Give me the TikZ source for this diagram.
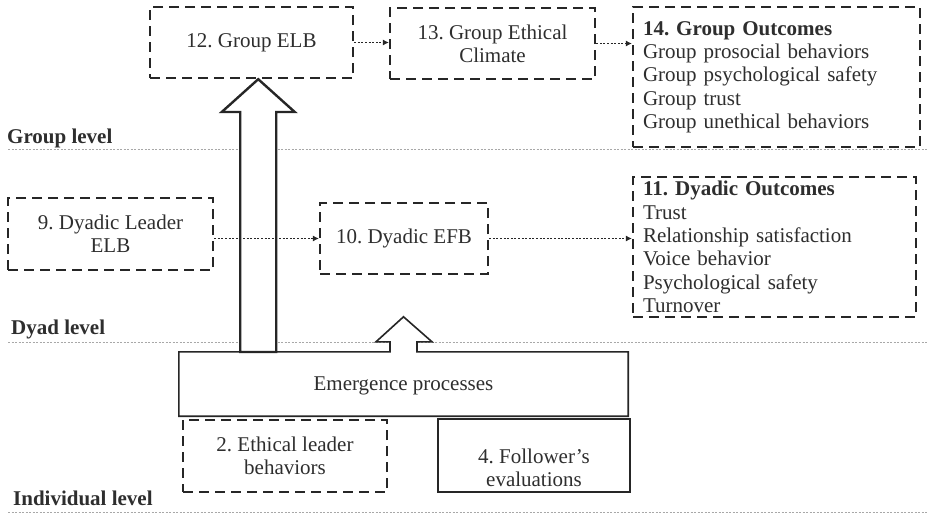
\documentclass[tikz,border=0pt]{standalone}
\usepackage{fontspec}
\setmainfont{Liberation Serif}
\usetikzlibrary{arrows.meta}
\definecolor{ink}{HTML}{262626}
\definecolor{txt}{HTML}{2E2E2E}
\definecolor{levelgray}{HTML}{A8A8A8}
\frenchspacing
\begin{document}
\begin{tikzpicture}[x=1pt,y=-1pt,
  every node/.style={font=\fontsize{21}{23.3}\selectfont, text=txt, inner sep=0pt},
  dbox/.style={draw=ink, line width=2.4pt, dash pattern=on 10pt off 6pt, fill=white, align=center},
  sbox/.style={draw=ink, line width=2.2pt, fill=white},
  listbox/.style={dbox, align=left, inner xsep=10pt},
  link/.style={draw=ink, line width=0.8pt, dash pattern=on 2pt off 1.6pt, -{Latex[length=6pt,width=6pt]}},
  levelline/.style={draw=levelgray, line width=0.8pt, dash pattern=on 2pt off 1.5pt},
  levellabel/.style={anchor=base west, font=\fontsize{21}{23.3}\selectfont\bfseries},
  hollow/.style={draw=ink, fill=white, line join=miter}]
\useasboundingbox (0,0) rectangle (927,514);

% level separators and their labels
\coordinate (gl0) at (8,149);   \coordinate (gl1) at (927,149);
\coordinate (dl0) at (8,342);   \coordinate (dl1) at (927,342);
\coordinate (il0) at (8,512.5); \coordinate (il1) at (927,512.5);
\draw[levelline] (gl0) -- (gl1);
\draw[levelline] (dl0) -- (dl1);
\draw[levelline] (il0) -- (il1);
\node[levellabel] (lgroup) at (7,143) {Group level};
\node[levellabel] (ldyad) at (11,334) {Dyad level};
\node[levellabel] (lind) at (13,505) {Individual level};

% group level
\node[dbox, minimum width=203pt, minimum height=71pt] (b12) at (251.5,42.5) {12. Group ELB};
\node[dbox, minimum width=205pt, minimum height=71pt] (b13) at (492.5,43.5) {13. Group Ethical\\Climate};
\node[listbox, text width=267pt, minimum height=140pt] (b14) at (776.5,77)
  {\textbf{14. Group Outcomes}\\Group prosocial behaviors\\Group psychological safety\\Group trust\\Group unethical behaviors};

% dyad level
\node[dbox, minimum width=205pt, minimum height=72pt] (b9) at (110.5,234) {9. Dyadic Leader\\ELB};
\node[dbox, minimum width=168pt, minimum height=71pt] (b10) at (404,238.5) {10. Dyadic EFB};
\node[listbox, text width=263pt, minimum height=140pt] (b11) at (774.5,247)
  {\textbf{11. Dyadic Outcomes}\\Trust\\Relationship satisfaction\\Voice behavior\\Psychological safety\\Turnover};

% individual level
\node[dbox, minimum width=204pt, minimum height=72pt] (b2) at (285,456) {2. Ethical leader\\behaviors};
\node[sbox, minimum width=192pt, minimum height=73pt] (b4) at (534,455.5) {};
\node[align=center] (t4) at (534,468) {4. Follower’s\\evaluations};

% emergence box with its small upward arrow (shifts are in canvas units: positive = up)
\node[minimum width=449pt, minimum height=64pt] (emerg) at (403.5,384) {};
\draw[hollow, line width=1.6pt]
  (emerg.north west) -- ([xshift=-13.5pt]emerg.north)
  -- ([xshift=-13.5pt,yshift=10pt]emerg.north) -- ([xshift=-27.5pt,yshift=10pt]emerg.north)
  -- ([yshift=35pt]emerg.north) -- ([xshift=28.5pt,yshift=10pt]emerg.north)
  -- ([xshift=13.5pt,yshift=10pt]emerg.north) -- ([xshift=13.5pt]emerg.north)
  -- (emerg.north east) -- (emerg.south east) -- (emerg.south west) -- cycle;
\node (temerg) at (403.5,386) {Emergence processes};

% large hollow arrow from the emergence processes up to the group ELB
\coordinate (bigbase) at (258.25,352);
\coordinate (bighead) at (258.25,112);
\coordinate (bigtip) at (b12.south -| bigbase);
\draw[hollow, line width=2.4pt]
  ([xshift=-18pt]bigbase) -- ([xshift=-18pt]bighead) -- ([xshift=-36.5pt]bighead)
  -- (bigtip) -- ([xshift=36.5pt]bighead) -- ([xshift=18pt]bighead)
  -- ([xshift=18pt]bigbase) -- cycle;

% dotted links
\draw[link] (b12.east) -- (b13.west |- b12.east);
\draw[link] (b13.east) -- (b14.west |- b13.east);
\draw[link] (b9.east |- b10.west) -- (b10.west);
\draw[link] (b10.east) -- (b11.west |- b10.east);
\end{tikzpicture}
\end{document}
